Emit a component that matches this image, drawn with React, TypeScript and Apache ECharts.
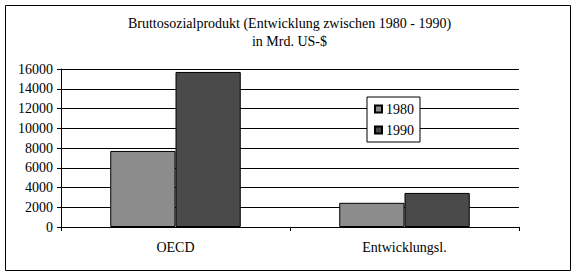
import React, { useEffect, useRef } from "react";
import * as echarts from "echarts";

const categories = ["OECD", "Entwicklungsl."];
const seriesNames = ["1980", "1990"];
const values1980 = [7700, 2450];
const values1990 = [15700, 3450];
const yTicks = { min: 0, max: 16000, interval: 2000 };

const FONT = "Liberation Serif";

export default function App() {
  const ref = useRef<HTMLDivElement>(null);
  useEffect(() => {
    const chart = echarts.init(ref.current!, null, { renderer: "svg" });
    chart.setOption({
      animation: false,
      backgroundColor: "#ffffff",
      textStyle: { fontFamily: FONT },
      title: {
        text: "Bruttosozialprodukt (Entwicklung zwischen 1980 - 1990)\nin Mrd. US-$",
        left: "center",
        top: 9,
        textStyle: { fontFamily: FONT, fontSize: 14, fontWeight: "normal", color: "#000", lineHeight: 18 },
      },
      graphic: [
        {
          type: "rect",
          shape: { x: 5.5, y: 5.5, width: 565, height: 265 },
          style: { fill: "none", stroke: "#000", lineWidth: 1 },
          z: 100,
        },
      ],
      legend: {
        data: seriesNames,
        orient: "vertical",
        left: 367,
        top: 97,
        backgroundColor: "#fff",
        borderColor: "#000",
        borderWidth: 1,
        padding: [5, 6, 5, 7],
        itemWidth: 7,
        itemHeight: 7,
        itemGap: 7,
        icon: "rect",
        textStyle: { fontFamily: FONT, fontSize: 14, color: "#000", padding: [0, 0, 0, -1] },
        z: 10,
      },
      grid: { left: 61, right: 60, top: 69, bottom: 50 },
      xAxis: {
        type: "category",
        data: categories,
        axisLine: { lineStyle: { color: "#000", width: 1 } },
        axisTick: { show: true, length: 4, lineStyle: { color: "#000" } },
        axisLabel: { fontFamily: FONT, fontSize: 14, color: "#000", margin: 13 },
      },
      yAxis: {
        type: "value",
        min: yTicks.min,
        max: yTicks.max,
        interval: yTicks.interval,
        axisLine: { show: true, lineStyle: { color: "#000", width: 1 } },
        axisTick: { show: true, length: 4, lineStyle: { color: "#000" } },
        splitLine: { show: true, lineStyle: { color: "#000", width: 1 } },
        axisLabel: {
          fontFamily: FONT,
          fontSize: 14,
          color: "#000",
          margin: 8,
          formatter: (v: number) => String(v),
        },
      },
      series: [
        {
          name: seriesNames[0],
          type: "bar",
          data: values1980,
          barGap: "0%",
          barCategoryGap: "43%",
          itemStyle: { color: "#8c8c8c", borderColor: "#000", borderWidth: 1 },
        },
        {
          name: seriesNames[1],
          type: "bar",
          data: values1990,
          barGap: "0%",
          barCategoryGap: "43%",
          itemStyle: { color: "#4a4a4a", borderColor: "#000", borderWidth: 1 },
        },
      ],
    });
    return () => chart.dispose();
  }, []);
  return (
    <div
      ref={ref}
      style={{ position: "fixed", left: 0, top: 0, width: 579, height: 277 }}
    />
  );
}
